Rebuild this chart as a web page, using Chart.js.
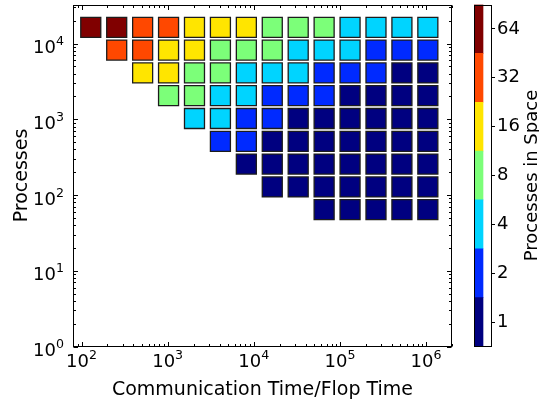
<!DOCTYPE html>
<html>
<head>
<meta charset="utf-8">
<script src="https://cdn.jsdelivr.net/npm/chart.js@4/dist/chart.umd.min.js"></script>
<style>
  html, body { margin: 0; padding: 0; background: #fff; }
  #wrap { position: relative; width: 539px; height: 403px; }
  canvas { position: absolute; left: 0; top: 0; }
</style>
</head>
<body>
<div id="wrap">
  <canvas id="main" width="539" height="403"></canvas>
  <canvas id="cbar" width="539" height="403"></canvas>
</div>
<script>
// ---------------- data ----------------
const xValues = [128, 256, 512, 1024, 2048, 4096, 8192, 16384, 32768, 65536, 131072, 262144, 524288, 1048576];
const yValues = [16384, 8192, 4096, 2048, 1024, 512, 256, 128, 64];
const N = null;
const row16384 = [64, 64, 32, 32, 16, 16, 16, 8, 8, 8, 4, 4, 4, 4];
const row8192  = [N, 32, 32, 16, 16, 8, 8, 8, 4, 4, 4, 2, 2, 2];
const row4096  = [N, N, 16, 16, 8, 8, 4, 4, 4, 2, 2, 2, 1, 1];
const row2048  = [N, N, N, 8, 8, 4, 4, 2, 2, 2, 1, 1, 1, 1];
const row1024  = [N, N, N, N, 4, 4, 2, 2, 1, 1, 1, 1, 1, 1];
const row512   = [N, N, N, N, N, 2, 2, 1, 1, 1, 1, 1, 1, 1];
const row256   = [N, N, N, N, N, N, 1, 1, 1, 1, 1, 1, 1, 1];
const row128   = [N, N, N, N, N, N, N, 1, 1, 1, 1, 1, 1, 1];
const row64    = [N, N, N, N, N, N, N, N, N, 1, 1, 1, 1, 1];
const rows = [row16384, row8192, row4096, row2048, row1024, row512, row256, row128, row64];

const cbLevels = [1, 2, 4, 8, 16, 32, 64];
const cbColors = ['#000080', '#002aff', '#00d4ff', '#7cff79', '#ffe500', '#ff4800', '#800000'];
const xTickExps = [2, 3, 4, 5, 6];
const yTickExps = [0, 1, 2, 3, 4];
const xTitle = 'Communication Time/Flop Time';
const yTitle = 'Processes';
const cbTitle = 'Processes in Space';

// ---------------- layout constants ----------------
const FONT = '"DejaVu Sans", "Liberation Sans", sans-serif';
const TICK_PX = 18, SUP_PX = 12.6, TITLE_PX = 19;

// build datasets, one per colour level
const datasets = cbLevels.map((lvl, k) => {
  const pts = [];
  rows.forEach((r, i) => r.forEach((v, j) => { if (v === lvl) pts.push({ x: xValues[j], y: yValues[i] }); }));
  return {
    data: pts,
    pointStyle: 'rect',
    pointRadius: 10 / Math.SQRT1_2,
    pointHoverRadius: 10 / Math.SQRT1_2,
    backgroundColor: cbColors[k],
    borderColor: '#1c1c1c',
    borderWidth: 1.3
  };
});

function drawPow(ctx, e, x, y, align) {
  ctx.font = TICK_PX + 'px ' + FONT;
  const w1 = ctx.measureText('10').width;
  ctx.font = SUP_PX + 'px ' + FONT;
  const w2 = ctx.measureText(String(e)).width;
  const tot = w1 + w2;
  const sx = align === 'right' ? x - tot : x - tot / 2;
  ctx.textAlign = 'left';
  ctx.textBaseline = 'alphabetic';
  ctx.font = TICK_PX + 'px ' + FONT;
  ctx.fillText('10', sx, y);
  ctx.font = SUP_PX + 'px ' + FONT;
  ctx.fillText(String(e), sx + w1, y - 8);
}

const frameTicks = {
  id: 'frameTicks',
  afterDraw(chart) {
    const ctx = chart.ctx, a = chart.chartArea;
    const xs = chart.scales.x, ys = chart.scales.y;
    ctx.save();
    ctx.strokeStyle = '#000';
    ctx.fillStyle = '#000';
    ctx.lineWidth = 1;
    const L = Math.round(a.left) + 0.5, R = Math.round(a.right) - 0.5;
    const T = Math.round(a.top) + 0.5, B = Math.round(a.bottom) - 0.5;
    ctx.strokeRect(L, T, R - L, B - T);
    // ticks (inward, all four sides)
    ctx.beginPath();
    for (let d = -1; d <= 7; d++) {
      for (let k = 1; k <= 9; k++) {
        const v = k * Math.pow(10, d);
        const len = k === 1 ? 4.5 : 2.5;
        if (v >= xs.min && v <= xs.max) {
          const p = Math.round(xs.getPixelForValue(v)) + 0.5;
          ctx.moveTo(p, B); ctx.lineTo(p, B - len);
          ctx.moveTo(p, T); ctx.lineTo(p, T + len);
        }
        if (v >= ys.min && v <= ys.max) {
          const p = Math.round(ys.getPixelForValue(v)) + 0.5;
          ctx.moveTo(L, p); ctx.lineTo(L + len, p);
          ctx.moveTo(R, p); ctx.lineTo(R - len, p);
        }
      }
    }
    ctx.stroke();
    // tick labels
    xTickExps.forEach(e => drawPow(ctx, e, xs.getPixelForValue(Math.pow(10, e)), a.bottom + 20.5, 'center'));
    yTickExps.forEach(e => drawPow(ctx, e, a.left - 9, ys.getPixelForValue(Math.pow(10, e)) + 9.5, 'right'));
    // axis titles
    ctx.font = TITLE_PX + 'px ' + FONT;
    ctx.textAlign = 'center';
    ctx.textBaseline = 'alphabetic';
    ctx.fillText(xTitle, (a.left + a.right) / 2, 394.5);
    ctx.translate(27, (a.top + a.bottom) / 2);
    ctx.rotate(-Math.PI / 2);
    ctx.fillText(yTitle, 0, 0);
    ctx.restore();
  }
};

new Chart(document.getElementById('main'), {
  type: 'scatter',
  data: { datasets },
  options: {
    responsive: false,
    animation: false,
    events: [],
    layout: { autoPadding: false, padding: { top: 4.5, right: 87, left: 0, bottom: 0 } },
    plugins: { legend: { display: false }, tooltip: { enabled: false } },
    scales: {
      x: {
        type: 'logarithmic', min: 79.6, max: 2.0e6,
        ticks: { display: false }, grid: { display: false }, border: { display: false },
        afterFit(s) { s.height = 56.5; s.paddingLeft = 0; s.paddingRight = 0; }
      },
      y: {
        type: 'logarithmic', min: 1, max: 32768,
        ticks: { display: false }, grid: { display: false }, border: { display: false },
        afterFit(s) { s.width = 73; s.paddingTop = 0; s.paddingBottom = 0; }
      }
    }
  },
  plugins: [frameTicks]
});

// ---------------- colour bar ----------------
const cbDeco = {
  id: 'cbDeco',
  afterDraw(chart) {
    const ctx = chart.ctx, a = chart.chartArea;
    ctx.save();
    ctx.strokeStyle = '#000';
    ctx.lineWidth = 1;
    ctx.strokeRect(Math.round(a.left) + 0.5, Math.round(a.top) + 0.5,
                   Math.round(a.right) - Math.round(a.left) - 1, Math.round(a.bottom) - Math.round(a.top) - 1);
    ctx.fillStyle = '#000';
    ctx.font = '18px ' + FONT;
    ctx.textAlign = 'center';
    ctx.textBaseline = 'alphabetic';
    ctx.translate(537, (a.top + a.bottom) / 2);
    ctx.rotate(-Math.PI / 2);
    ctx.fillText(cbTitle, 0, 0);
    ctx.restore();
  }
};

new Chart(document.getElementById('cbar'), {
  type: 'bar',
  data: {
    labels: ['cb'],
    datasets: cbLevels.map((lvl, k) => ({
      data: [1], backgroundColor: cbColors[k], borderWidth: 0,
      categoryPercentage: 1, barPercentage: 1
    }))
  },
  options: {
    responsive: false,
    animation: false,
    events: [],
    layout: { autoPadding: false, padding: { left: 474, top: 4.5, bottom: 56.5, right: 0 } },
    plugins: { legend: { display: false }, tooltip: { enabled: false } },
    scales: {
      x: { display: false, stacked: true, offset: false },
      y: {
        type: 'linear', position: 'right', stacked: true, min: 0, max: cbLevels.length,
        afterBuildTicks(s) { s.ticks = cbLevels.map((v, i) => ({ value: i + 0.5 })); },
        ticks: {
          color: '#000', font: { family: FONT, size: 18 }, padding: 2,
          callback: (val) => String(cbLevels[Math.round(val - 0.5)])
        },
        grid: { display: true, drawOnChartArea: false, drawTicks: true, tickLength: 3, color: '#000', lineWidth: 1 },
        border: { display: false },
        afterFit(s) { s.width = 47; s.paddingTop = 0; s.paddingBottom = 0; }
      }
    }
  },
  plugins: [cbDeco]
});
</script>
</body>
</html>
